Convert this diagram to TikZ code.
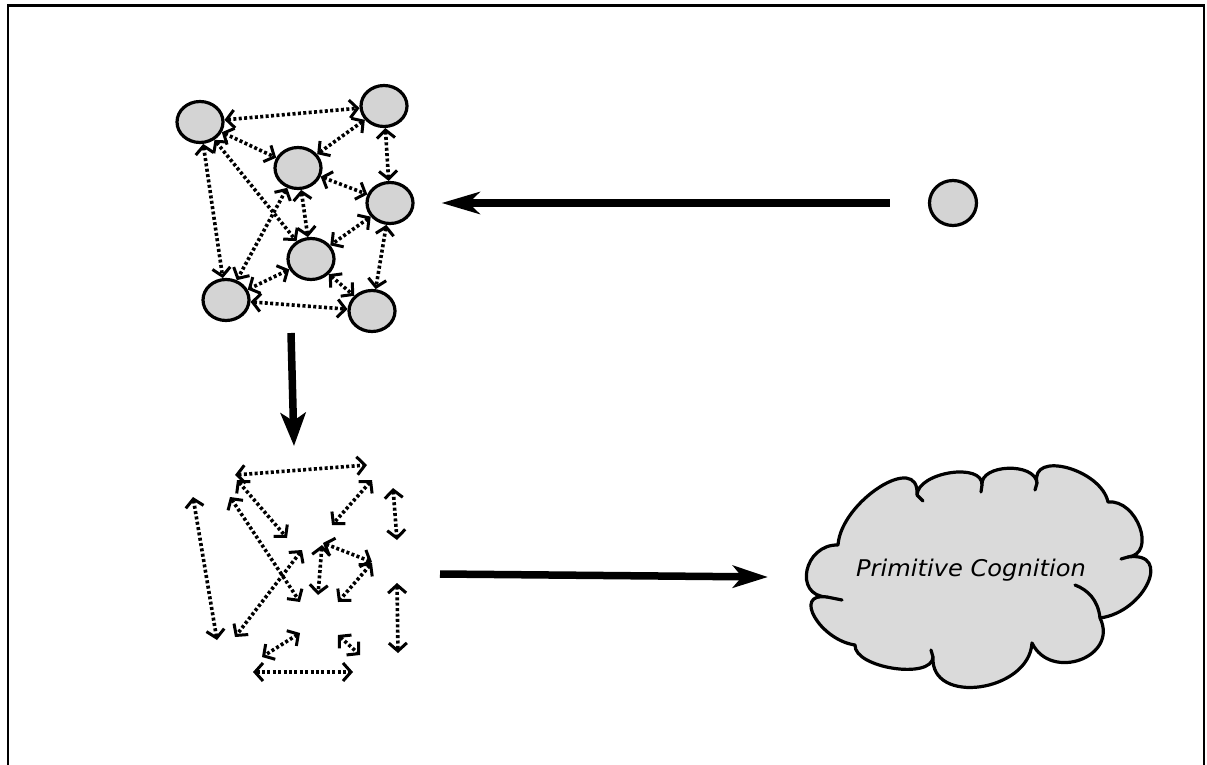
\documentclass[tikz,border=0pt]{standalone}
\usepackage{fontspec}
\newfontfamily\cloudfont[FakeStretch=1.05]{DejaVu Sans}
\usetikzlibrary{arrows.meta,shapes.geometric}
\definecolor{nodegray}{HTML}{D4D4D4}
\definecolor{cloudgray}{HTML}{DADADA}
\begin{document}
\begin{tikzpicture}[x=1pt,y=-1pt,
  cnode/.style={draw,ellipse,line width=3.2pt,fill=nodegray,minimum width=46pt,minimum height=41pt,inner sep=0pt},
  link/.style={line width=3.6pt,dash pattern=on 3pt off 2.4pt,
    {Straight Barb[length=8pt,width=18pt,line width=3pt]}-{Straight Barb[length=8pt,width=18pt,line width=3pt]}},
  bigarrow/.style={line width=7.5pt},
  cloudline/.style={line width=3.2pt,line join=round,line cap=round}
]
\useasboundingbox (0,0) rectangle (1207,765);
% frame
\draw[line width=2.2pt] (8,765) -- (8,5.5) -- (1204,5.5) -- (1204,765);

% top cluster
\node[cnode] (n1) at (200,122) {};
\node[cnode] (n2) at (384,106) {};
\node[cnode] (n3) at (298,168) {};
\node[cnode] (n4) at (390,203) {};
\node[cnode] (n5) at (311,259) {};
\node[cnode] (n6) at (226,300) {};
\node[cnode] (n7) at (372,311) {};
\draw[link] (n1) -- (n2);
\draw[link] (n1) -- (n6);
\draw[link] (n1) -- (n3);
\draw[link] (n1) -- (n5);
\draw[link] (n2) -- (n3);
\draw[link] (n2) -- (n4);
\draw[link] (n3) -- (n4);
\draw[link] (n3) -- (n5);
\draw[link] (n3) -- (n6);
\draw[link] (n4) -- (n5);
\draw[link] (n4) -- (n7);
\draw[link] (n5) -- (n6);
\draw[link] (n5) -- (n7);
\draw[link] (n6) -- (n7);

% single node and arrow into the cluster
\node[cnode,minimum width=47pt,minimum height=45pt] (s) at (953,203) {};
\draw[bigarrow,-{Stealth[length=38pt,width=22pt,inset=11pt]},shorten <=38pt,shorten >=27pt] (s) -- (n4);

% down arrow
\coordinate (da1) at (291,333);
\coordinate (da2) at (294,446);
\draw[bigarrow,-{Stealth[length=33pt,width=25pt,inset=8pt]}] (da1) -- (da2);

% bottom cluster (arrows without nodes)
\coordinate (b1a) at (235,475); \coordinate (b1b) at (367,465);
\coordinate (b2a) at (193,497); \coordinate (b2b) at (217,640);
\coordinate (b3a) at (237,480); \coordinate (b3b) at (287,538);
\coordinate (b4a) at (230,497); \coordinate (b4b) at (300,602);
\coordinate (b5a) at (372,480); \coordinate (b5b) at (332,525);
\coordinate (b6a) at (393,488); \coordinate (b6b) at (397,540);
\coordinate (b7a) at (302,550); \coordinate (b7b) at (235,637);
\coordinate (b8a) at (322,545); \coordinate (b8b) at (318,595);
\coordinate (b9a) at (323,543); \coordinate (b9b) at (372,562);
\coordinate (b10a) at (372,563); \coordinate (b10b) at (338,602);
\coordinate (b11a) at (397,583); \coordinate (b11b) at (398,653);
\coordinate (b12a) at (300,633); \coordinate (b12b) at (262,657);
\coordinate (b13a) at (338,635); \coordinate (b13b) at (360,655);
\coordinate (b14a) at (253,672); \coordinate (b14b) at (353,672);
\foreach \i in {1,...,14} {\draw[link] (b\i a) -- (b\i b);}

% cloud
\draw[cloudline,fill=cloudgray]
  (838,545) .. controls (841,501) and (920,451) .. (917,495)
  .. controls (918,472) and (983,462) .. (982,485)
  .. controls (980,464) and (1035,462) .. (1037,483)
  .. controls (1030,450) and (1101,469) .. (1108,502)
  .. controls (1137,499) and (1157,554) .. (1128,557)
  .. controls (1173,551) and (1145,612) .. (1100,618)
  .. controls (1119,657) and (1051,682) .. (1032,643)
  .. controls (1029,692) and (930,706) .. (933,657)
  .. controls (932,680) and (854,668) .. (855,645)
  .. controls (820,640) and (792,592) .. (827,597)
  .. controls (793,596) and (804,544) .. (838,545) -- cycle;
\draw[cloudline] (917,495) -- (923,501);
\draw[cloudline] (982,485) -- (981,492);
\draw[cloudline] (1037,483) -- (1035,490);
\draw[cloudline] (1128,557) -- (1121,559);
\draw[cloudline] (1100,618) .. controls (1098,600) and (1088,590) .. (1075,585);
\draw[cloudline] (933,657) -- (931,650);
\draw[cloudline] (827,597) -- (842,600);
\node[anchor=base,font=\cloudfont\itshape\fontsize{23}{27}\selectfont,inner sep=0pt] (cloud) at (971,576) {Primitive Cognition};

% arrow to cloud
\coordinate (ba1) at (440,574);
\coordinate (ba2) at (768,577);
\draw[bigarrow,-{Stealth[length=35pt,width=22pt,inset=9pt]}] (ba1) -- (ba2);
\end{tikzpicture}
\end{document}
